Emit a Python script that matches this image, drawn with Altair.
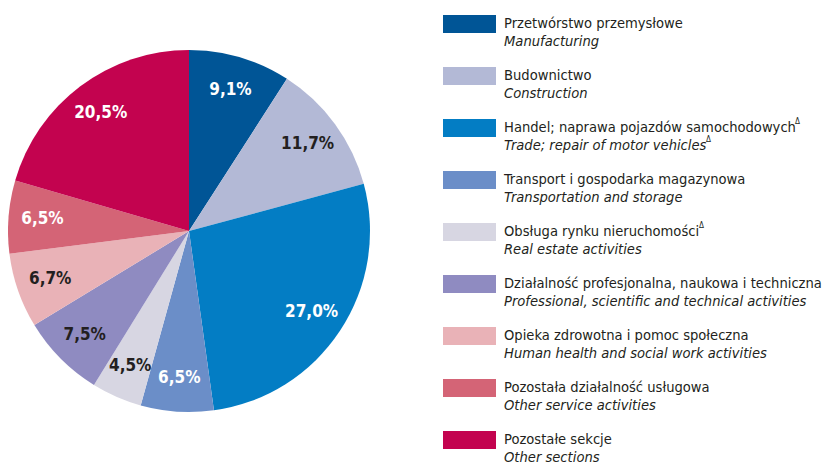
import altair as alt
import pandas as pd

pl_labels = [
    "Przetwórstwo przemysłowe",
    "Budownictwo",
    "Handel; naprawa pojazdów samochodowych",
    "Transport i gospodarka magazynowa",
    "Obsługa rynku nieruchomości",
    "Działalność profesjonalna, naukowa i techniczna",
    "Opieka zdrowotna i pomoc społeczna",
    "Pozostała działalność usługowa",
    "Pozostałe sekcje",
]
en_labels = [
    "Manufacturing",
    "Construction",
    "Trade; repair of motor vehicles",
    "Transportation and storage",
    "Real estate activities",
    "Professional, scientific and technical activities",
    "Human health and social work activities",
    "Other service activities",
    "Other sections",
]
values = [9.1, 11.7, 27.0, 6.5, 4.5, 7.5, 6.7, 6.5, 20.5]
colors = ["#005596", "#b3b9d6", "#037dc4", "#6b8ec8", "#d7d6e2",
          "#8f8bc1", "#e9b2b7", "#d46476", "#c3034f"]
label_dark = [False, True, False, False, True, True, True, False, False]

df = pd.DataFrame({
    "idx": list(range(len(values))),
    "pl": pl_labels,
    "en": en_labels,
    "value": values,
    "label": [f"{v:.1f}%".replace(".", ",") for v in values],
    "dark": label_dark,
})

FONT = "Liberation Sans Narrow, Arial Narrow, DejaVu Sans Condensed, sans-serif"
color_scale = alt.Scale(domain=pl_labels, range=colors)

CX, CY, R = 181, 223, 181

base = alt.Chart(df).encode(
    theta=alt.Theta("value:Q", stack=True),
    order=alt.Order("idx:O"),
    x=alt.value(CX),
    y=alt.value(CY),
)

arcs = base.mark_arc(outerRadius=R).encode(
    color=alt.Color("pl:N", scale=color_scale, legend=None)
)

labels = base.mark_text(
    radius=147, font=FONT, fontSize=17, fontWeight="bold", align="center", baseline="middle"
).encode(
    text="label:N",
    color=alt.condition("datum.dark", alt.value("#231f20"), alt.value("#ffffff")),
)

pie = (arcs + labels).properties(width=362, height=448)

yenc = alt.Y("pl:N", sort=pl_labels, axis=None,
             scale=alt.Scale(type="point", padding=0.31))

lbase = alt.Chart(df).encode(y=yenc)

swatch = lbase.mark_rect(height=18).encode(
    x=alt.value(73), x2=alt.value(126),
    color=alt.Color("pl:N", scale=color_scale, legend=None),
)
pl_text = lbase.mark_text(
    align="left", baseline="alphabetic", dy=4, font=FONT, fontSize=14.6, color="#231f20"
).encode(x=alt.value(134), text="pl:N")
en_text = lbase.mark_text(
    align="left", baseline="alphabetic", dy=22, font=FONT, fontSize=14.6,
    fontStyle="italic", color="#231f20"
).encode(x=alt.value(134), text="en:N")

def sup_mark(row, line, xpos):
    return lbase.transform_filter(
        alt.datum.idx == row
    ).mark_text(
        align="left", baseline="alphabetic", dy=(-4 if line == 0 else 14),
        font=FONT, fontSize=8, color="#231f20"
    ).encode(x=alt.value(xpos), text=alt.value("Δ"))

sups = sup_mark(2, 0, 425) + sup_mark(2, 1, 336) + sup_mark(4, 0, 329)

legend = (swatch + pl_text + en_text + sups).properties(width=456, height=448)

chart = alt.hconcat(pie, legend, spacing=0).properties(padding=0).configure_view(stroke=None)

chart.save("out.html", embed_options={"renderer": "svg", "actions": False})
